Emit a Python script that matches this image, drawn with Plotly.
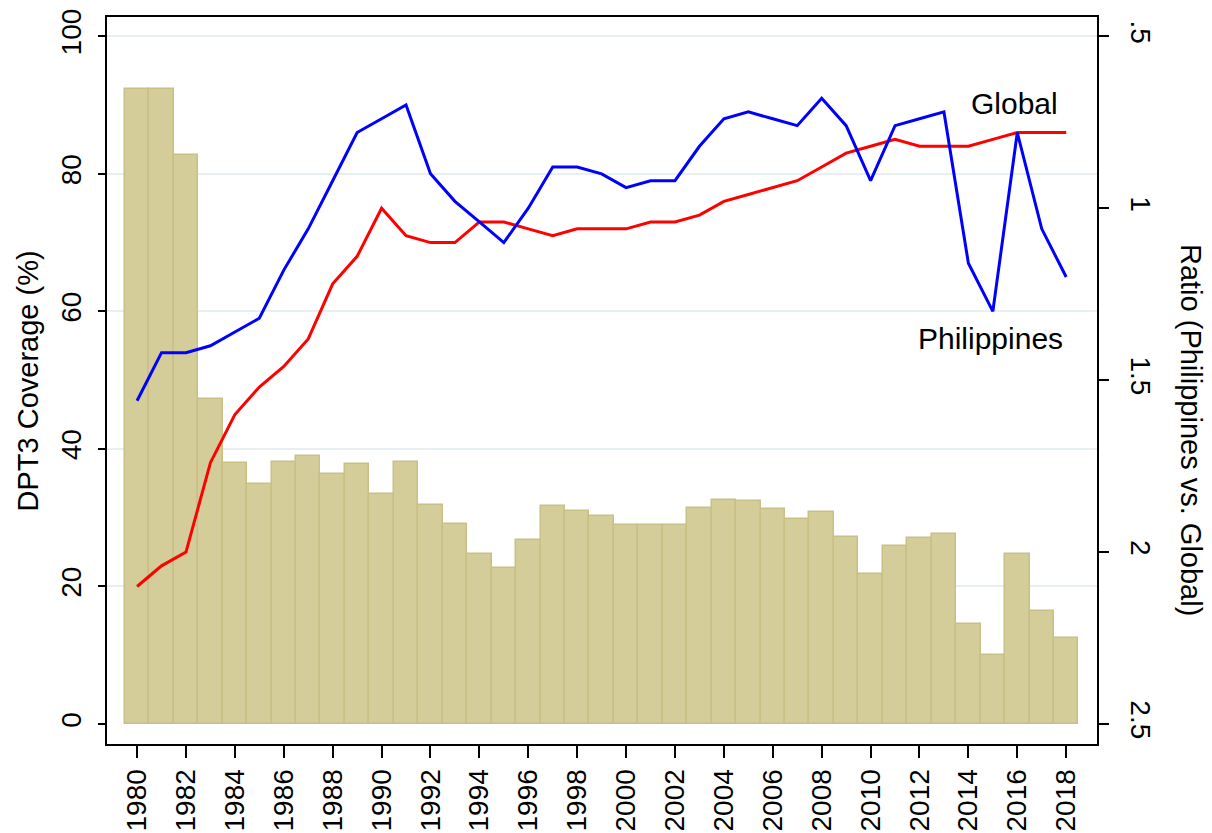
import plotly.graph_objects as go

# years and series
years = list(range(1980, 2019))

philippines = [47, 54, 54, 55, 57, 59, 66, 72, 79, 86,
               88, 90, 80, 76, 73, 70, 75, 81, 81, 80,
               78, 79, 79, 84, 88, 89, 88, 87, 91, 87,
               79, 87, 88, 89, 67, 60, 86, 72, 65]

global_cov = [20, 23, 25, 38, 45, 49, 52, 56, 64, 68,
              75, 71, 70, 70, 73, 73, 72, 71, 72, 72,
              72, 73, 73, 74, 76, 77, 78, 79, 81, 83,
              84, 85, 84, 84, 84, 85, 86, 86, 86]

# ratio (Philippines vs. Global), right axis (reversed)
ratio = [0.652, 0.654, 0.844, 1.554, 1.740, 1.802, 1.738, 1.720, 1.772, 1.744,
         1.830, 1.738, 1.862, 1.918, 2.006, 2.046, 1.964, 1.866, 1.880, 1.894,
         1.920, 1.920, 1.920, 1.872, 1.848, 1.850, 1.874, 1.904, 1.882, 1.956,
         2.064, 1.982, 1.958, 1.946, 2.208, 2.300, 2.006, 2.172, 2.250]

left_ticks = [0, 20, 40, 60, 80, 100]
right_ticks = [0.5, 1, 1.5, 2, 2.5]
right_labels = [".5", "1", "1.5", "2", "2.5"]

ratio_base = 2.5
FONT = "Liberation Sans"

fig = go.Figure()

# bars on the ratio axis (y, right side), lines on the coverage axis (y2, left side, overlaid on top)
fig.add_trace(go.Bar(
    x=years,
    y=[r - ratio_base for r in ratio],
    base=ratio_base,
    yaxis="y",
    width=1,
    marker=dict(color="#d4cd99", line=dict(color="#c8c085", width=1.5)),
    showlegend=False,
))

fig.add_trace(go.Scatter(
    x=years, y=global_cov, mode="lines", yaxis="y2",
    line=dict(color="#ff0000", width=3), showlegend=False,
))
fig.add_trace(go.Scatter(
    x=years, y=philippines, mode="lines", yaxis="y2",
    line=dict(color="#0000ff", width=3), showlegend=False,
))

fig.add_annotation(x=2015.87, y=90.2, xref="x", yref="y2", text="Global", showarrow=False,
                   font=dict(size=30, color="black"))
fig.add_annotation(x=2014.9, y=56.1, xref="x", yref="y2", text="Philippines", showarrow=False,
                   font=dict(size=30, color="black"))

# axis titles
fig.add_annotation(xref="paper", yref="paper", x=-0.0798, y=0.5,
                   xanchor="center", yanchor="middle",
                   text="DPT3 Coverage (%)", textangle=-90, showarrow=False,
                   font=dict(size=29, color="black"))
fig.add_annotation(xref="paper", yref="paper", x=1.0949, y=0.432,
                   xanchor="center", yanchor="middle",
                   text="Ratio (Philippines vs. Global)", textangle=90,
                   showarrow=False, font=dict(size=29, color="black"))

# the page body adds an 8px offset, so the figure is sized to the visible area
fig.update_layout(
    width=1204, height=825,
    margin=dict(l=99, r=115, t=9, b=89),
    paper_bgcolor="white", plot_bgcolor="white",
    font=dict(family=FONT, color="black", size=28),
    bargap=0,
    xaxis=dict(
        range=[1978.77, 2019.26],
        tickmode="linear", tick0=1980, dtick=2,
        tickangle=-90,
        ticks="outside", ticklen=12, tickwidth=2, tickcolor="black",
        showline=True, linecolor="black", linewidth=2, mirror=True,
        showgrid=False, zeroline=False, automargin=False,
        tickfont=dict(size=28),
    ),
    yaxis=dict(
        side="right",
        range=[2.558, 0.444],
        tickvals=right_ticks, ticktext=right_labels,
        tickangle=90,
        ticks="outside", ticklen=10, tickwidth=1.5, tickcolor="black",
        ticklabelstandoff=11,
        showline=True, linecolor="black", linewidth=2, mirror=True,
        showgrid=False, zeroline=False, automargin=False,
        tickfont=dict(size=28),
    ),
    yaxis2=dict(
        overlaying="y", side="left",
        range=[-2.9, 102.8],
        tickvals=left_ticks,
        tickangle=-90,
        ticks="outside", ticklen=8, tickwidth=1.5, tickcolor="black",
        ticklabelstandoff=6,
        showline=False,
        showgrid=True, gridcolor="#e8eff2", gridwidth=2,
        zeroline=True, zerolinecolor="white", automargin=False,
        tickfont=dict(size=28),
    ),
)

fig.write_html("out.html")
